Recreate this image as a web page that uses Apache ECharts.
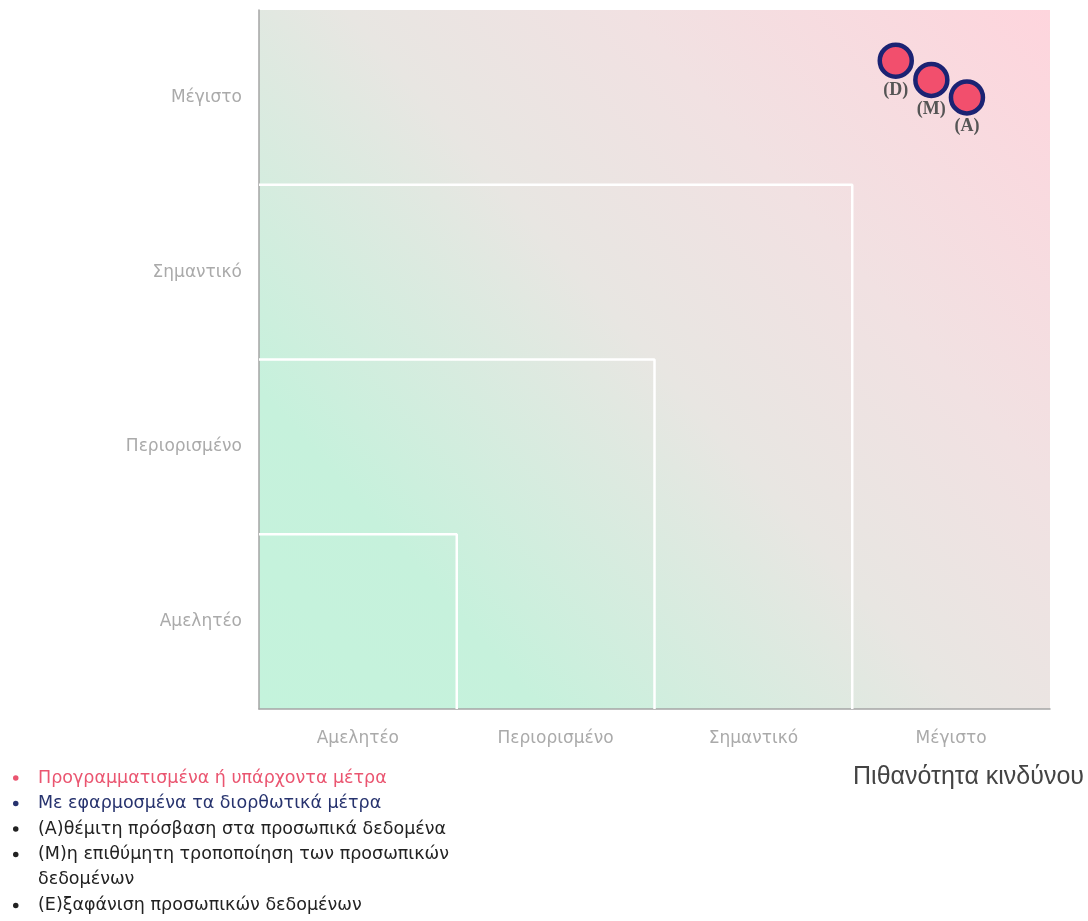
<!DOCTYPE html>
<html>
<head>
<meta charset="utf-8">
<script src="https://cdn.jsdelivr.net/npm/echarts@6/dist/echarts.min.js"></script>
<style>
html,body{margin:0;padding:0;background:#fff;}
#chart{width:1088px;height:921px;}
</style>
</head>
<body>
<div id="chart"></div>
<script>
// Categories (both axes)
const levels = ['Αμελητέο', 'Περιορισμένο', 'Σημαντικό', 'Μέγιστο'];
// Risk points: x = likelihood, y = severity (in axis units 0..4)
const pointLabels = ['(D)', '(M)', '(A)'];
const pointX = [3.22, 3.40, 3.58];
const pointY = [3.71, 3.60, 3.50];
// Nested zone boundaries
const zoneBounds = [1, 2, 3];
// Axis title
const xTitle = 'Πιθανότητα κινδύνου';
// Legend lines
const legendTexts = [
  'Προγραμματισμένα ή υπάρχοντα μέτρα',
  'Με εφαρμοσμένα τα διορθωτικά μέτρα',
  '(Α)θέμιτη πρόσβαση στα προσωπικά δεδομένα',
  '(Μ)η επιθύμητη τροποποίηση των προσωπικών\nδεδομένων',
  '(Ε)ξαφάνιση προσωπικών δεδομένων'
];
const legendColors = ['#ea5570', '#27336e', '#222', '#222', '#222'];

const chart = echarts.init(document.getElementById('chart'), null, {renderer: 'canvas'});

const zoneSeries = zoneBounds.map(b => ({
  type: 'line',
  xAxisIndex: 1, yAxisIndex: 1,
  data: [[0, b], [b, b], [b, 0]],
  symbol: 'none',
  silent: true,
  lineStyle: {color: '#ffffff', width: 2.5},
  z: 2
}));

const pointSeries = {
  type: 'scatter',
  xAxisIndex: 1, yAxisIndex: 1,
  symbol: 'circle',
  symbolSize: 32,
  itemStyle: {color: '#f24f6d', borderColor: '#1b2373', borderWidth: 4.5, opacity: 1},
  label: {
    show: true, position: 'bottom', distance: 2,
    formatter: p => p.data.name,
    fontFamily: '"Liberation Serif", "DejaVu Serif", serif',
    fontSize: 18, fontWeight: 'bold', color: '#555'
  },
  data: pointLabels.map((n, i) => ({name: n, value: [pointX[i], pointY[i]]})),
  z: 5
};

const graphics = [];
let yPos = 778;
legendTexts.forEach((t, i) => {
  graphics.push({
    type: 'circle', left: 13, top: yPos - 2.75,
    shape: {r: 2.75}, style: {fill: legendColors[i]}
  });
  graphics.push({
    type: 'text', left: 38, top: yPos - 12.5,
    style: {text: t, fill: legendColors[i], font: '17.5px "DejaVu Sans", sans-serif', lineHeight: 25}
  });
  yPos += 25.5 * (t.split('\n').length);
});
graphics.push({
  type: 'text', right: 4, top: 765,
  style: {text: xTitle, fill: '#444', font: '25px "Liberation Sans", Arial, sans-serif'}
});

chart.setOption({
  animation: false,
  backgroundColor: '#ffffff',
  grid: {
    left: 259, right: 38, top: 10, bottom: 212,
    show: true, borderWidth: 0,
    backgroundColor: {
      type: 'linear', x: 0, y: 1, x2: 1, y2: 0,
      colorStops: [
        {offset: 0, color: '#c4f3dc'},
        {offset: 0.2, color: '#c6f1dc'},
        {offset: 0.5, color: '#e8e6e2'},
        {offset: 0.7, color: '#f1e1e2'},
        {offset: 1, color: '#fed5dd'}
      ]
    }
  },
  xAxis: [
    {
      type: 'category', data: levels, boundaryGap: true, position: 'bottom',
      axisLine: {show: true, lineStyle: {color: '#a5a5a5', width: 1.5}},
      axisTick: {show: false}, splitLine: {show: false},
      axisLabel: {color: '#aaaaaa', fontSize: 17, margin: 21, fontFamily: '"DejaVu Sans", sans-serif'}
    },
    {type: 'value', min: 0, max: 4, show: false, splitLine: {show: false}}
  ],
  yAxis: [
    {
      type: 'category', data: levels, boundaryGap: true,
      axisLine: {show: true, lineStyle: {color: '#a5a5a5', width: 1.5}},
      axisTick: {show: false}, splitLine: {show: false},
      axisLabel: {color: '#aaaaaa', fontSize: 17, margin: 17, fontFamily: '"DejaVu Sans", sans-serif'}
    },
    {type: 'value', min: 0, max: 4, show: false, splitLine: {show: false}}
  ],
  series: [...zoneSeries, pointSeries],
  graphic: graphics
});
</script>
</body>
</html>
